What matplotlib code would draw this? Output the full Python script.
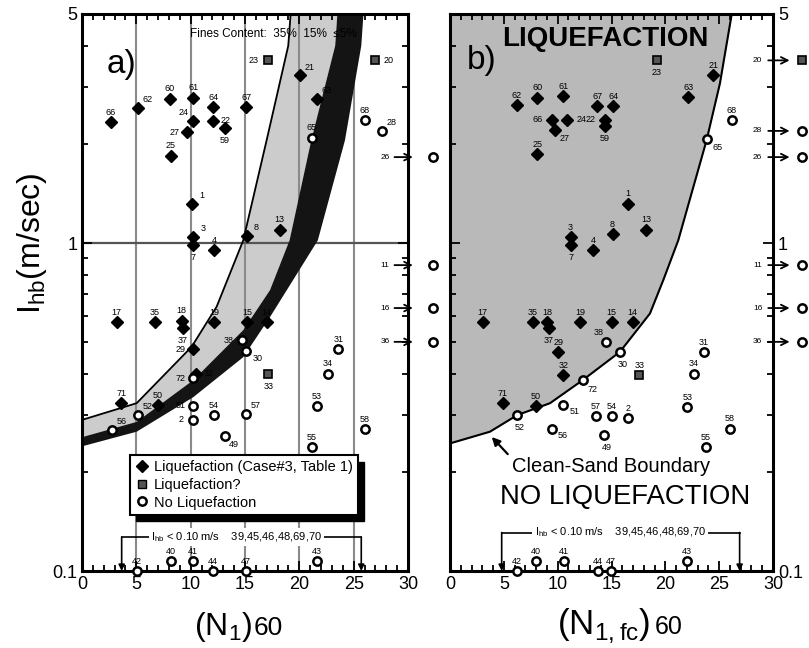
import numpy as np
import matplotlib
matplotlib.use('Agg')
import matplotlib.pyplot as plt
import matplotlib.ticker as mticker
from matplotlib.lines import Line2D
from matplotlib.patches import Rectangle

plt.rcParams['font.family'] = ['Liberation Sans', 'DejaVu Sans']

# ---------------- Panel a) : (N1)60 ----------------
a_liq_id = ['66', '62', '60', '61', '24', '27', '25', '64', '22', '59', '67', '21', '63',
            '1', '3', '7', '4', '8', '13', '17', '35', '18', '37', '19', '15', '14',
            '29', '32', '71', '50']
a_liq_n = [2.64, 5.18, 8.1, 10.24, 10.24, 9.63, 8.16, 12.08, 12.08, 13.16, 15.1, 20.05, 21.65,
           10.09, 10.24, 10.24, 12.15, 15.15, 18.2, 3.19, 6.72, 9.17, 9.3, 12.14, 15.2, 17.0,
           10.24, 10.5, 3.6, 7.0]
a_liq_i = [2.34, 2.59, 2.76, 2.78, 2.36, 2.18, 1.85, 2.60, 2.36, 2.25, 2.60, 3.25, 2.76,
           1.32, 1.045, 0.99, 0.95, 1.05, 1.10, 0.575, 0.575, 0.58, 0.55, 0.575, 0.575, 0.575,
           0.475, 0.40, 0.325, 0.32]

a_q_id = ['23', '20', '33']
a_q_n = [17.1, 26.95, 17.14]
a_q_i = [3.61, 3.61, 0.399]

a_no_id = ['65', '68', '28', '38', '30', '72', '51', '2', '54', '49', '57', '53', '55',
           '58', '34', '31', '52', '56']
a_no_n = [21.13, 26.0, 27.57, 14.69, 15.06, 10.24, 10.24, 10.24, 12.14, 13.16, 15.09, 21.6, 21.13,
          26.0, 22.6, 23.6, 5.18, 2.73]
a_no_i = [2.10, 2.37, 2.20, 0.506, 0.47, 0.387, 0.319, 0.289, 0.299, 0.258, 0.301, 0.319, 0.239,
          0.271, 0.40, 0.475, 0.299, 0.27]

a_low_id = ['42', '40', '41', '44', '47', '43']
a_low_n = [5.03, 8.19, 10.18, 12.08, 15.09, 21.65]
a_low_i = [0.1, 0.107, 0.107, 0.1, 0.1, 0.107]

a_off_id = ['26', '11', '16', '36']
a_off_i = [1.83, 0.857, 0.634, 0.50]

# fines-content boundaries
a_c35_n = [0, 5.03, 10.09, 12.39, 14.84, 16.99, 18.98, 19.2]
a_c35_i = [0.289, 0.325, 0.483, 0.64, 1.02, 2.06, 4.0, 5.0]
a_c15_n = [0, 5.03, 10.24, 14.84, 17.3, 19.1, 21.1, 23.3, 23.5]
a_c15_i = [0.256, 0.285, 0.382, 0.543, 0.719, 1.02, 2.06, 4.0, 5.0]
a_c5_n = [0, 5.03, 10.24, 14.84, 17.3, 21.7, 24.2, 25.7, 25.9]
a_c5_i = [0.240, 0.266, 0.339, 0.449, 0.595, 1.02, 2.06, 4.0, 5.0]

# ---------------- Panel b) : (N1,fc)60 ----------------
b_liq_id = ['62', '60', '61', '67', '64', '66', '24', '22', '59', '27', '25', '21', '63',
            '1', '13', '8', '3', '7', '4', '17', '35', '18', '37', '19', '15', '14',
            '29', '32', '71', '50']
b_liq_n = [6.19, 8.1, 10.52, 13.68, 15.16, 9.44, 10.89, 14.39, 14.39, 9.75, 8.1, 24.45, 22.13,
           16.56, 18.2, 15.1, 11.2, 11.2, 13.3, 3.03, 7.68, 9.04, 9.2, 12.07, 15.01, 16.96,
           10.06, 10.52, 4.89, 7.99]
b_liq_i = [2.63, 2.78, 2.81, 2.62, 2.62, 2.38, 2.38, 2.38, 2.27, 2.21, 1.87, 3.25, 2.79,
           1.32, 1.10, 1.065, 1.045, 0.99, 0.952, 0.575, 0.575, 0.575, 0.55, 0.575, 0.575, 0.575,
           0.466, 0.396, 0.325, 0.319]

b_q_id = ['23', '33']
b_q_n = [19.19, 17.58]
b_q_i = [3.63, 0.396]

b_no_id = ['65', '68', '38', '30', '72', '51', '52', '56', '57', '54', '2', '49', '53',
           '34', '31', '55', '58']
b_no_n = [23.83, 26.15, 14.48, 15.78, 12.32, 10.52, 6.25, 9.44, 13.56, 15.01, 16.56, 14.3, 22.04,
          22.63, 23.58, 23.77, 26.0]
b_no_i = [2.08, 2.37, 0.50, 0.466, 0.382, 0.321, 0.299, 0.272, 0.297, 0.297, 0.292, 0.26, 0.317,
          0.40, 0.466, 0.239, 0.272]

b_low_id = ['42', '40', '41', '44', '47', '43']
b_low_n = [6.25, 7.99, 10.58, 13.77, 14.95, 22.03]
b_low_i = [0.1, 0.107, 0.107, 0.1, 0.1, 0.107]

b_off_id = ['20', '28', '26', '11', '16', '36']
b_off_kind = ['q', 'no', 'no', 'no', 'no', 'no']
b_off_i = [3.61, 2.2, 1.83, 0.857, 0.634, 0.50]

# clean-sand boundary
b_cb_n = [0, 3.71, 6.25, 9.29, 12.32, 15.78, 18.57, 19.8, 21.2, 23.83, 25.07, 26.15, 26.2]
b_cb_i = [0.245, 0.266, 0.299, 0.325, 0.382, 0.466, 0.61, 0.77, 1.02, 2.06, 3.07, 4.96, 5.0]

y_ticks = [0.1, 1, 5]
y_ticklabels = ['0.1', '1', '5']
x_ticks = [0, 5, 10, 15, 20, 25, 30]

# ---------------- label placement (offsets in points) ----------------
UP, DN, LF, RT, UR = (0, 7), (0, -9), (-9, 0), (9, 0), (7, 6)
a_lab = {'7': DN, '59': DN, '22': RT, '24': (-7, 6), '27': LF, '37': DN, '3': UR, '1': UR,
         '21': UR, '62': UR, '63': UR, '51': LF, '2': LF, '30': (9, -6), '33': DN, '23': (-10, 0),
         '20': (10, 0), '49': (6, -6), '57': UR, '29': LF, '32': RT, '8': UR, '28': UR,
         '72': LF, '52': UR, '56': UR, '71': UP, '50': UP, '38': LF}
b_lab = {'66': (-10, 0), '24': (10, 0), '22': (-10, 0), '59': DN, '27': (7, -6), '7': DN,
         '37': DN, '30': (2, -9), '72': (7, -7), '52': (2, -9), '56': (8, -5), '51': (8, -5),
         '65': (8, -6), '23': DN, '49': (2, -9), '38': (-5, 7), '29': UP, '32': UP, '2': UP}

fig = plt.figure(figsize=(8.09, 6.48), dpi=100)
axA = fig.add_axes([82 / 809, 1 - 571 / 648, 326 / 809, 557 / 648])
axB = fig.add_axes([450 / 809, 1 - 571 / 648, 323 / 809, 557 / 648])

for ax in (axA, axB):
    ax.set_xlim(0, 30)
    ax.set_yscale('log')
    ax.set_ylim(0.1, 5)
    ax.set_xticks(x_ticks)
    ax.xaxis.set_minor_locator(mticker.MultipleLocator(1))
    ax.set_yticks(y_ticks)
    ax.set_yticklabels(y_ticklabels)
    ax.yaxis.set_minor_locator(mticker.LogLocator(base=10, subs=np.arange(2, 10), numticks=20))
    ax.yaxis.set_minor_formatter(mticker.NullFormatter())
    ax.tick_params(which='both', direction='in', top=True, right=True, labelsize=13, width=1.3)
    ax.tick_params(which='major', length=7)
    ax.tick_params(which='minor', length=4)
    for s in ax.spines.values():
        s.set_linewidth(2.2)

axB.tick_params(labelleft=False, labelright=True)


def draw_points(ax, ids, ns, iss, kind, labs):
    for pid, n, i in zip(ids, ns, iss):
        if kind == 'liq':
            ax.plot(n, i, 'D', ms=6.5, color='k', zorder=5, clip_on=False)
        elif kind == 'q':
            ax.plot(n, i, 's', ms=5.5, mfc='#555555', mec='k', mew=1.2, zorder=5, clip_on=False)
        else:
            ax.plot(n, i, 'o', ms=6, mfc='white', mec='k', mew=1.8, zorder=5, clip_on=False)
        off = labs.get(pid, UP)
        ax.annotate(pid, (n, i), xytext=off, textcoords='offset points', fontsize=6.5,
                    ha='center', va='center', zorder=6, annotation_clip=False)


# ---- panel a ----
for g in [5, 10, 15, 20, 25]:
    axA.axvline(g, color='#8a8a8a', lw=1.5, zorder=1.5)
axA.axhline(1, color='#555555', lw=1.6, zorder=1.5)
axA.fill(a_c35_n + a_c15_n[::-1], a_c35_i + a_c15_i[::-1], color='#cccccc', lw=0, zorder=1)
axA.fill(a_c15_n + a_c5_n[::-1], a_c15_i + a_c5_i[::-1], color='#141414', lw=0, zorder=2)
axA.plot(a_c35_n, a_c35_i, color='k', lw=1.3, zorder=2)

draw_points(axA, a_liq_id, a_liq_n, a_liq_i, 'liq', a_lab)
draw_points(axA, a_q_id, a_q_n, a_q_i, 'q', a_lab)
draw_points(axA, a_no_id, a_no_n, a_no_i, 'no', a_lab)
draw_points(axA, a_low_id, a_low_n, a_low_i, 'no', a_lab)

for pid, i in zip(a_off_id, a_off_i):
    axA.annotate('', xy=(30.7, i), xytext=(28.5, i),
                 arrowprops=dict(arrowstyle='->', lw=1.3, color='k', mutation_scale=12),
                 annotation_clip=False)
    axA.plot(32.3, i, 'o', ms=6, mfc='white', mec='k', mew=1.8, clip_on=False, zorder=5)
    axA.text(28.3, i, pid, fontsize=6, ha='right', va='center')

axA.text(3.6, 3.5, 'a)', fontsize=24, ha='center', va='center')
axA.text(0.586, 0.964, 'Fines Content:  35%  15%  \u22645%', transform=axA.transAxes,
         fontsize=8.5, ha='center', va='center', zorder=7)

# bracket for Ihb < 0.10 m/s
for ax, n0, n1, yb, nt in [(axA, 3.65, 25.7, 0.127, 14.2), (axB, 4.8, 26.9, 0.131, 15.8)]:
    ax.plot([n0, n1], [yb, yb], color='k', lw=1.2, zorder=3)
    for nn in (n0, n1):
        ax.annotate('', xy=(nn, 0.1), xytext=(nn, yb),
                    arrowprops=dict(arrowstyle='-|>', lw=1.2, color='k', mutation_scale=9,
                                    shrinkA=0, shrinkB=0), annotation_clip=False)
    ax.text(nt, yb, r'I$_{\mathregular{hb}}$ < 0.10 m/s    39,45,46,48,69,70', fontsize=8,
            ha='center', va='center', zorder=4,
            bbox=dict(facecolor='white', edgecolor='none', pad=1.5))

# legend
handles = [Line2D([], [], marker='D', ls='none', color='k', ms=6.5),
           Line2D([], [], marker='s', ls='none', mfc='#555555', mec='k', ms=5.5),
           Line2D([], [], marker='o', ls='none', mfc='white', mec='k', mew=1.8, ms=6)]
labels = ['Liquefaction (Case#3, Table 1)', 'Liquefaction?', 'No Liquefaction']
leg = axA.legend(handles, labels, loc='upper left', bbox_to_anchor=(0.147, 0.208),
                 fontsize=10.5, frameon=True, fancybox=False, edgecolor='k', framealpha=1,
                 handletextpad=0.3, handlelength=1.0, labelspacing=0.25, borderpad=0.35,
                 borderaxespad=0)
leg.get_frame().set_linewidth(1.5)
leg.set_zorder(8)

# ---- panel b ----
axB.fill_between(b_cb_n, b_cb_i, 5, color='#b9b9b9', lw=0, zorder=1)
axB.plot(b_cb_n, b_cb_i, color='k', lw=1.5, zorder=2)

draw_points(axB, b_liq_id, b_liq_n, b_liq_i, 'liq', b_lab)
draw_points(axB, b_q_id, b_q_n, b_q_i, 'q', b_lab)
draw_points(axB, b_no_id, b_no_n, b_no_i, 'no', b_lab)
draw_points(axB, b_low_id, b_low_n, b_low_i, 'no', b_lab)

for pid, kind, i in zip(b_off_id, b_off_kind, b_off_i):
    axB.annotate('', xy=(31.8, i), xytext=(29.3, i),
                 arrowprops=dict(arrowstyle='->', lw=1.3, color='k', mutation_scale=12),
                 annotation_clip=False)
    if kind == 'q':
        axB.plot(32.7, i, 's', ms=5.5, mfc='#555555', mec='k', mew=1.2, clip_on=False, zorder=5)
    else:
        axB.plot(32.7, i, 'o', ms=6, mfc='white', mec='k', mew=1.8, clip_on=False, zorder=5)
    axB.text(29.0, i, pid, fontsize=6, ha='right', va='center')

axB.text(2.9, 3.6, 'b)', fontsize=24, ha='center', va='center')
axB.text(14.4, 4.2, 'LIQUEFACTION', fontsize=20, fontweight='bold', ha='center', va='center')
axB.text(16.3, 0.168, 'NO LIQUEFACTION', fontsize=19.8, ha='center', va='center')
axB.annotate('Clean-Sand Boundary', xy=(3.7, 0.26), xytext=(15.0, 0.208), fontsize=14.5,
             ha='center', va='center',
             arrowprops=dict(arrowstyle='-|>', lw=1.6, color='k', mutation_scale=12,
                             relpos=(0.0, 0.9)))

# axis labels
fig.text(0.04, 0.625, r'$\mathregular{I_{hb}}$(m/sec)', rotation=90, fontsize=23,
         ha='center', va='center')
fig.text(252 / 809, 1 - 635 / 648, r'(N$_{\mathregular{1}}$)', fontsize=23, ha='right',
         va='baseline')
fig.text(254 / 809, 1 - 635 / 648, '60', fontsize=19, ha='left', va='baseline')
fig.text(650 / 809, 1 - 634 / 648, r'(N$_{\mathregular{1,fc}}$)', fontsize=25, ha='right',
         va='baseline')
fig.text(655 / 809, 1 - 634 / 648, '60', fontsize=18, ha='left', va='baseline')

# legend shadow
fig.canvas.draw()
bb = leg.get_window_extent().transformed(axA.transAxes.inverted())
axA.add_patch(Rectangle((bb.x0 + 0.02, bb.y0 - 0.012), bb.width, bb.height,
                        transform=axA.transAxes, color='k', zorder=7.9, clip_on=False))

fig.savefig('out.png', dpi=100)
